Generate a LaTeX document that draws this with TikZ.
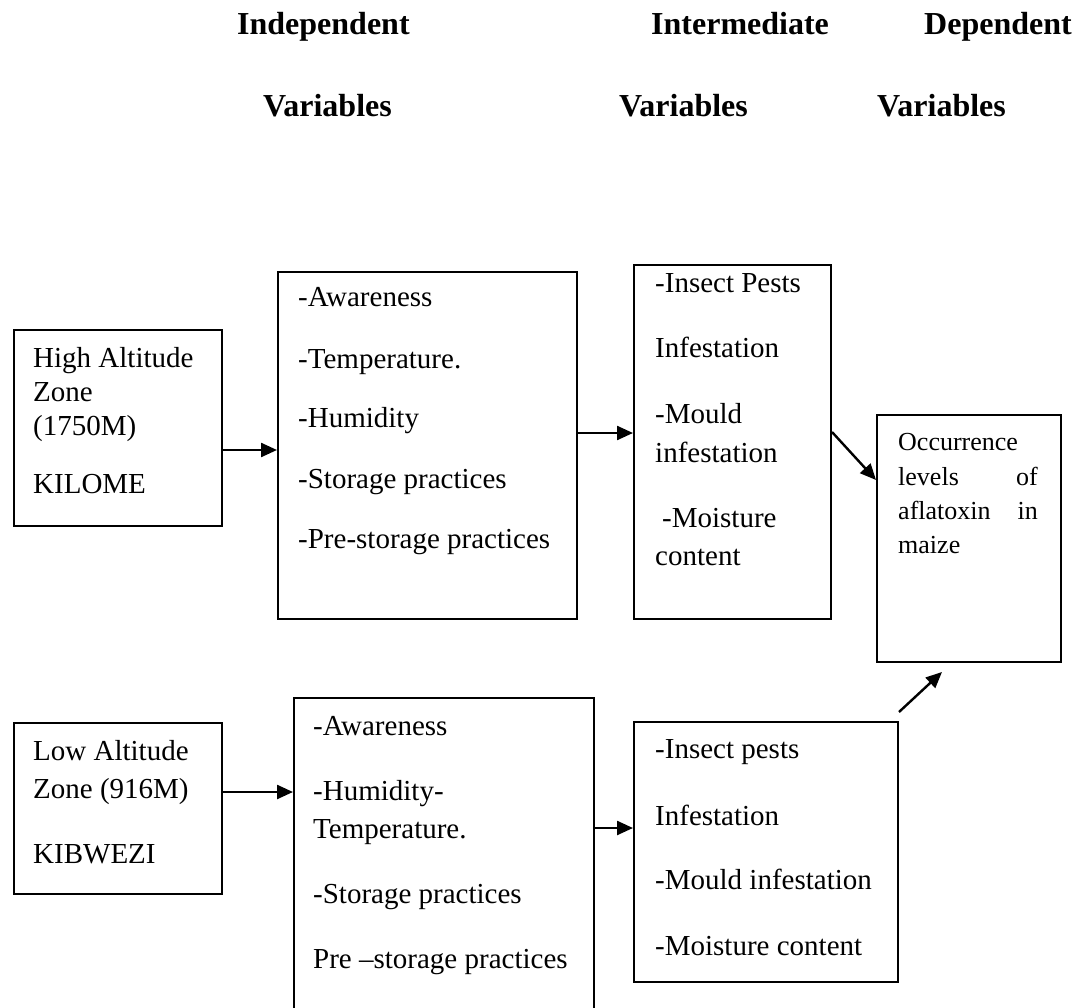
\documentclass[tikz,border=0pt]{standalone}
\usepackage{fontspec}
\setmainfont{Liberation Serif}
\usetikzlibrary{arrows.meta,calc}
\tikzset{
  box/.style={draw, line width=2pt, anchor=north west, inner sep=0pt},
  lbl/.style={anchor=base west, inner sep=0pt, font=\fontsize{29}{34}\selectfont},
  lble/.style={anchor=base east, inner sep=0pt, font=\fontsize{26}{32}\selectfont},
  hdr/.style={anchor=base west, inner sep=0pt, font=\fontsize{32}{38}\selectfont\bfseries},
  occ/.style={anchor=base west, inner sep=0pt, font=\fontsize{26}{32}\selectfont},
  arr/.style={line width=2.4pt, -{Triangle[length=16pt,width=14pt]}},
}
\begin{document}
\begin{tikzpicture}[x=1pt,y=-1pt]
\fill[white] (0,0) rectangle (1082,1008);
\useasboundingbox (0,0) rectangle (1082,1008);

% headers
\node[hdr] (h1) at (237,35) {Independent};
\node[hdr] (h2) at (263,117) {Variables};
\node[hdr] (h3) at (651,35) {Intermediate};
\node[hdr] (h4) at (619,117) {Variables};
\node[hdr] (h5) at (924,35) {Dependent};
\node[hdr] (h6) at (877,117) {Variables};

% boxes
\node[box, minimum width=208pt, minimum height=196pt] (b1) at (13,329) {};
\node[box, minimum width=299pt, minimum height=347pt] (b2) at (277,271) {};
\node[box, minimum width=197pt, minimum height=354pt] (b3) at (633,264) {};
\node[box, minimum width=184pt, minimum height=247pt] (b4) at (876,414) {};
\node[box, minimum width=208pt, minimum height=171pt] (b5) at (13,722) {};
\node[box, minimum width=300pt, minimum height=330pt] (b6) at (293,697) {};
\node[box, minimum width=264pt, minimum height=260pt] (b7) at (633,721) {};

% box 1 text
\node[lbl] (t1a) at (33,367) {High Altitude};
\node[lbl] (t1b) at (33,401) {Zone};
\node[lbl] (t1c) at (33,435) {(1750M)};
\node[lbl] (t1d) at (33,493) {KILOME};

% box 2 text
\node[lbl] (t2a) at (298,307) {-Awareness};
\node[lbl] (t2b) at (298,368) {-Temperature.};
\node[lbl] (t2c) at (298,427) {-Humidity};
\node[lbl] (t2d) at (298,488) {-Storage practices};
\node[lbl] (t2e) at (298,548) {-Pre-storage practices};

% box 3 text
\node[lbl] (t3a) at (655,293) {-Insect Pests};
\node[lbl] (t3b) at (655,358) {Infestation};
\node[lbl] (t3c) at (655,423) {-Mould};
\node[lbl] (t3d) at (655,462) {infestation};
\node[lbl] (t3e) at (662,527) {-Moisture};
\node[lbl] (t3f) at (655,565) {content};

% box 4 text
\node[occ] (t4a) at (898,450) {Occurrence};
\node[occ] (t4b) at (898,485) {levels};
\node[lble] (t4c) at (1038,485) {of};
\node[occ] (t4d) at (898,519) {aflatoxin};
\node[lble] (t4e) at (1038,519) {in};
\node[occ] (t4f) at (898,553) {maize};

% box 5 text
\node[lbl] (t5a) at (33,760) {Low Altitude};
\node[lbl] (t5b) at (33,798) {Zone (916M)};
\node[lbl] (t5c) at (33,863) {KIBWEZI};

% box 6 text
\node[lbl] (t6a) at (313,735) {-Awareness};
\node[lbl] (t6b) at (313,800) {-Humidity-};
\node[lbl] (t6c) at (313,838) {Temperature.};
\node[lbl] (t6d) at (313,903) {-Storage practices};
\node[lbl] (t6e) at (313,968) {Pre --storage practices};

% box 7 text
\node[lbl] (t7a) at (655,758) {-Insect pests};
\node[lbl] (t7b) at (655,825) {Infestation};
\node[lbl] (t7c) at (655,889) {-Mould infestation};
\node[lbl] (t7d) at (655,955) {-Moisture content};

% connector end points
\coordinate (a1s) at ($(b1.north east)+(0,121)$);
\coordinate (a2s) at ($(b2.north east)+(0,162)$);
\coordinate (a3s) at ($(b3.north east)+(0,168)$);
\coordinate (a3e) at ($(b4.north west)+(0,66)$);
\coordinate (a4s) at ($(b5.north east)+(0,70)$);
\coordinate (a5s) at ($(b6.north east)+(0,131)$);
\coordinate (a6s) at ($(b7.north east)+(0,-9)$);
\coordinate (a6e) at ($(b4.south west)+(66,9)$);

% connectors
\draw[arr] (a1s) -- (a1s -| b2.west);
\draw[arr] (a2s) -- (a2s -| b3.west);
\draw[arr] (a3s) -- (a3e);
\draw[arr] (a4s) -- (a4s -| b6.west);
\draw[arr] (a5s) -- (a5s -| b7.west);
\draw[arr] (a6s) -- (a6e);
\end{tikzpicture}
\end{document}
